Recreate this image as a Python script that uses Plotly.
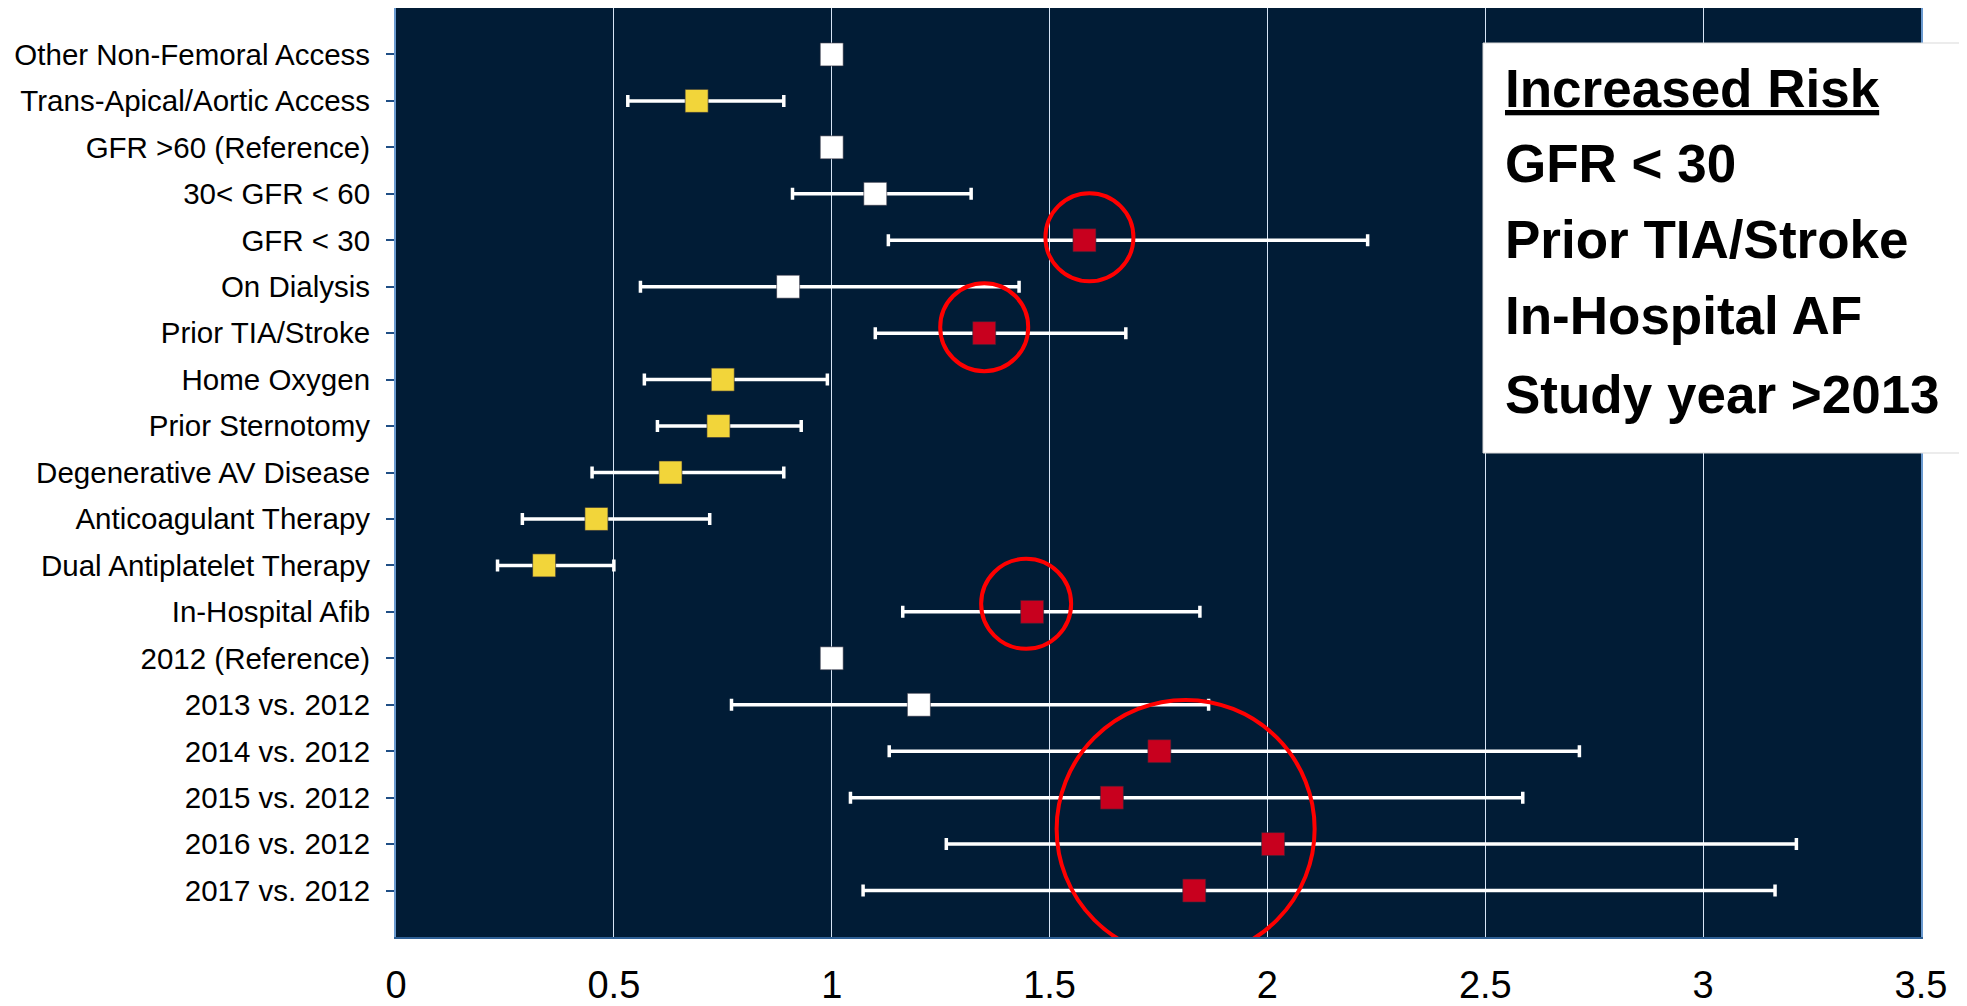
import plotly.graph_objects as go

# ---------------- data ----------------
categories = [
    "Other Non-Femoral Access", "Trans-Apical/Aortic Access", "GFR >60 (Reference)",
    "30< GFR < 60", "GFR < 30", "On Dialysis", "Prior TIA/Stroke", "Home Oxygen",
    "Prior Sternotomy", "Degenerative AV Disease", "Anticoagulant Therapy",
    "Dual Antiplatelet Therapy", "In-Hospital Afib", "2012 (Reference)",
    "2013 vs. 2012", "2014 vs. 2012", "2015 vs. 2012", "2016 vs. 2012", "2017 vs. 2012",
]
estimate = [1.00, 0.69, 1.00, 1.10, 1.58, 0.90, 1.35, 0.75, 0.74, 0.63, 0.46, 0.34,
            1.46, 1.00, 1.20, 1.752, 1.643, 2.013, 1.832]
lower = [None, 0.532, None, 0.91, 1.13, 0.561, 1.10, 0.57, 0.60, 0.45, 0.29, 0.233,
         1.163, None, 0.77, 1.132, 1.043, 1.263, 1.072]
upper = [None, 0.89, None, 1.32, 2.23, 1.43, 1.675, 0.99, 0.93, 0.89, 0.72, 0.50,
         1.845, None, 1.865, 2.716, 2.586, 3.214, 3.165]
# risk class: "neutral", "lower", "higher"
risk = ["neutral", "lower", "neutral", "neutral", "higher", "neutral", "higher", "lower",
        "lower", "lower", "lower", "lower", "higher", "neutral", "neutral", "higher",
        "higher", "higher", "higher"]
x_ticks = [0, 0.5, 1, 1.5, 2, 2.5, 3, 3.5]
legend_title = "Increased Risk"
legend_items = ["GFR < 30", "Prior TIA/Stroke", "In-Hospital AF", "Study year >2013"]
highlight_rows = [[4], [6], [12], [15, 16, 17, 18]]

# ---------------- styles ----------------
risk_colors = {"neutral": "#ffffff", "lower": "#f2d53a", "higher": "#c8001e"}
circle_style = [  # (dx px, dy px, radius px)
    (5, 3, 44), (0, 6, 44), (-6, 8, 45), (1, -8, 129)
]

OFF = 8  # page body margin
W, H = 1967 - OFF, 1006 - OFF
L, R, T, B = 396 - OFF, 46, 0, 69

err_plus = [None if u is None else u - e for u, e in zip(upper, estimate)]
err_minus = [None if l is None else e - l for l, e in zip(lower, estimate)]

fig = go.Figure()
fig.add_trace(go.Scatter(
    x=estimate, y=categories, mode="markers",
    marker=dict(symbol="square", size=23,
                color=[risk_colors[r] for r in risk],
                line=dict(color="#2a2a3a", width=0.6)),
    error_x=dict(type="data", symmetric=False, array=err_plus, arrayminus=err_minus,
                 color="#ffffff", thickness=3.5, width=6),
    showlegend=False, hoverinfo="skip",
))

shapes = []
for rows, (dx, dy, r) in zip(highlight_rows, circle_style):
    cx = sum(estimate[i] for i in rows) / len(rows)
    cy = sum(rows) / len(rows)
    shapes.append(dict(
        type="circle", xref="x", yref="y", xsizemode="pixel", ysizemode="pixel",
        xanchor=cx, yanchor=cy, x0=dx - r, x1=dx + r, y0=dy - r, y1=dy + r,
        line=dict(color="#ff0000", width=4), layer="above",
    ))

pw = W - L - R
ph = H - T - B
def px_x(p):  # reference page pixel -> paper
    return (p - OFF - L) / pw
def px_y(p):
    return (H - B - (p - OFF)) / ph

shapes.append(dict(type="rect", xref="paper", yref="paper",
                   x0=px_x(1483), x1=px_x(1967), y0=px_y(453), y1=px_y(43),
                   fillcolor="#ffffff", line=dict(color="#d9d9d9", width=1), layer="above"))

annotations = []
lines = ["<u>" + legend_title + "</u>"] + legend_items
ys = [88, 163, 239, 316, 394]
for txt, yy in zip(lines, ys):
    annotations.append(dict(
        text="<b>" + txt + "</b>", xref="paper", yref="paper",
        x=px_x(1503), y=px_y(yy), xanchor="left", yanchor="middle", showarrow=False,
        font=dict(family="Liberation Sans, Arial, sans-serif", size=53, color="#000000"),
    ))

fig.update_layout(
    width=W, height=H,
    margin=dict(l=L, r=R, t=T, b=B, pad=0),
    paper_bgcolor="#ffffff", plot_bgcolor="#011c36",
    shapes=shapes, annotations=annotations,
    font=dict(family="Liberation Sans, Arial, sans-serif", color="#000000"),
    xaxis=dict(
        range=[0, 3.5], tickvals=x_ticks, ticktext=[f"{v:g}" for v in x_ticks],
        showgrid=True, gridcolor="#d6e4f5", gridwidth=1, zeroline=False,
        showline=True, linecolor="#2e6096", linewidth=2, ticks="",
        tickfont=dict(size=38), ticklabelstandoff=13, automargin=False,
    ),
    yaxis=dict(
        type="category", categoryorder="array", categoryarray=categories,
        range=[len(categories), -1], showgrid=False, zeroline=False,
        showline=True, linecolor="#6a9ad0", linewidth=2, mirror=True,
        ticks="outside", ticklen=8, tickwidth=2, tickcolor="#1f4e85",
        tickfont=dict(size=29.5), ticklabelstandoff=10, automargin=False,
    ),
)

fig.write_html("out.html")
